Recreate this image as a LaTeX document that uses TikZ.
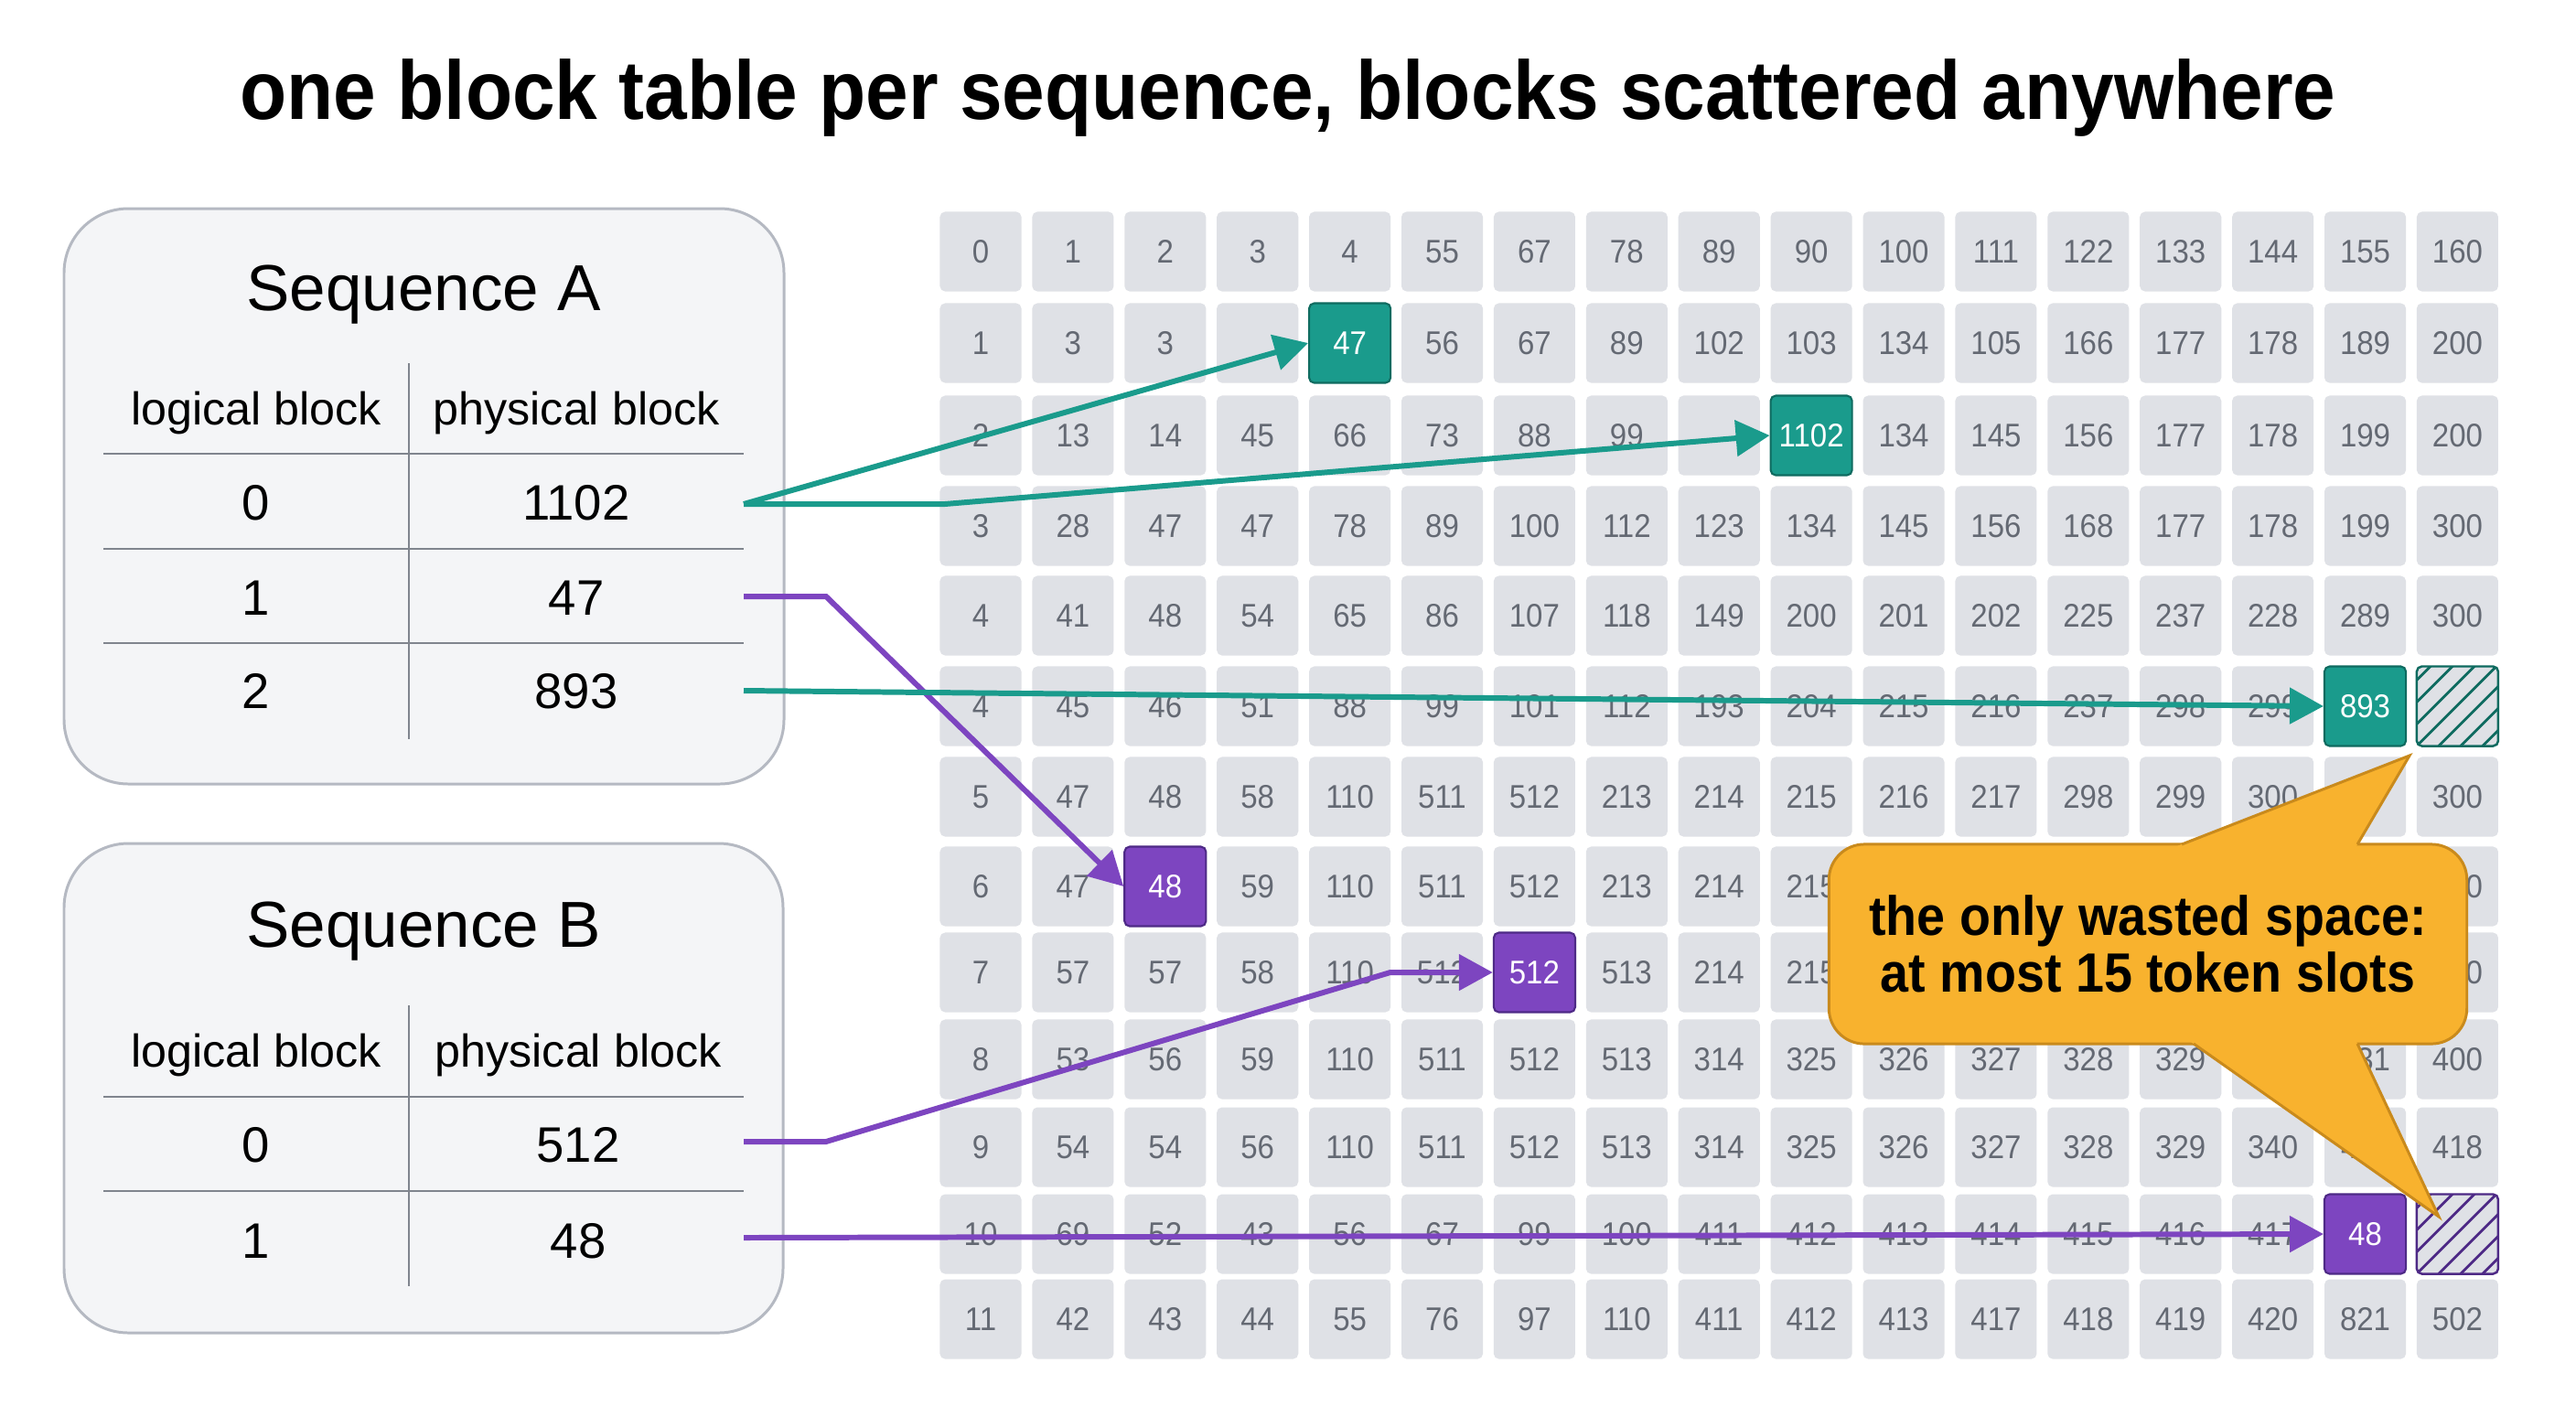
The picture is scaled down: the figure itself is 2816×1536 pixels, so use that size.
\documentclass[tikz,border=0pt]{standalone}
\usepackage{fontspec}
\setmainfont{Liberation Sans}
\newfontfamily\gridfont{Liberation Sans}[FakeStretch=0.92]
\usetikzlibrary{arrows.meta,calc}
\definecolor{cellgray}{HTML}{DFE1E6}
\definecolor{numgray}{HTML}{646973}
\definecolor{tealc}{HTML}{1A9B8C}
\definecolor{tealdark}{HTML}{0F6B60}
\definecolor{purpc}{HTML}{7D45C0}
\definecolor{purpdark}{HTML}{4E2A86}
\definecolor{panelfill}{HTML}{F4F5F7}
\definecolor{panelline}{HTML}{B5B9C2}
\definecolor{ruleline}{HTML}{80858E}
\definecolor{notefill}{HTML}{F8B22E}
\definecolor{noteline}{HTML}{C98A1C}

\begin{document}
\begin{tikzpicture}[x=0.01cm,y=-0.01cm,
  cell/.style={fill=cellgray, rounded corners=1.6pt, minimum width=0.89cm, minimum height=0.87cm,
    inner sep=0pt, text=numgray, font=\gridfont\fontsize{10.2}{12}\selectfont},
  tealblk/.style={cell, fill=tealc, draw=tealdark, line width=0.6pt, text=white},
  purpblk/.style={cell, fill=purpc, draw=purpdark, line width=0.6pt, text=white},
  slack/.style={cell, draw=#1, line width=0.7pt, path picture={
    \foreach \k in {0,...,8} \draw[#1, line width=0.8pt, sharp corners]
      ($(path picture bounding box.south west)+(\k*24-96,0)$) -- ++(140,-140);}},
  link/.style={line width=1.7pt, -{Triangle[length=10.5pt,width=11pt]}},
  panel/.style={fill=panelfill, draw=panelline, line width=0.85pt, rounded corners=20pt},
  rule/.style={draw=ruleline, line width=0.7pt},
  seqtitle/.style={anchor=base, font=\fontsize{20.2}{24}\selectfont},
  hdr/.style={anchor=base, font=\fontsize{14.3}{17}\selectfont},
  val/.style={anchor=base, font=\fontsize{15.5}{18}\selectfont},
  note/.style={fill=notefill, draw=noteline, line width=0.85pt, rounded corners=11pt,
    minimum width=6.97cm, minimum height=2.18cm, inner sep=0pt, align=center,
    font=\gridfont\bfseries\fontsize{17.2}{17.6}\selectfont}]
\useasboundingbox (0,0) rectangle (2816,1536);
\fill[white] (0,0) rectangle (2816,1536);
\node[anchor=base, font=\gridfont\bfseries\fontsize{25.9}{30}\selectfont] (title) at (1408,130)
  {one block table per sequence, blocks scattered anywhere};

\draw[panel] (70,228) rectangle (857,857);
\node[seqtitle] (seqA) at (463,339) {Sequence A};
\draw[rule] (447,397) -- (447,808);
\foreach \yy in {496,600,703} \draw[rule] (113,\yy) -- (813,\yy);
\node[hdr] (logA) at (280,464) {logical block};
\node[hdr] (physA) at (630,464) {physical block};
\foreach \l/\p/\yb [count=\i from 0] in {0/1102/568,1/47/672,2/893/774}{
  \node[val] (lA\i) at (280,\yb) {\l};
  \node[val] (pA\i) at (630,\yb) {\p};
}
\coordinate (sA0) at (813,551);
\coordinate (sA1) at (813,652);
\coordinate (sA2) at (813,755);

\draw[panel] (70,922) rectangle (856,1457);
\node[seqtitle] (seqB) at (463,1035) {Sequence B};
\draw[rule] (447,1099) -- (447,1406);
\foreach \yy in {1199,1302} \draw[rule] (113,\yy) -- (813,\yy);
\node[hdr] (logB) at (280,1166) {logical block};
\node[hdr] (physB) at (632,1166) {physical block};
\foreach \l/\p/\yb [count=\i from 0] in {0/512/1270,1/48/1375}{
  \node[val] (lB\i) at (280,\yb) {\l};
  \node[val] (pB\i) at (632,\yb) {\p};
}
\coordinate (sB0) at (813,1248);
\coordinate (sB1) at (813,1353);

\foreach \v [count=\c from 0] in {0,1,2,3,4,55,67,78,89,90,100,111,122,133,144,155,160} \node[cell] (g-0-\c) at (1072+100.9*\c,275) {\v};
\foreach \v [count=\c from 0] in {1,3,3,{},{},56,67,89,102,103,134,105,166,177,178,189,200} \node[cell] (g-1-\c) at (1072+100.9*\c,375) {\v};
\foreach \v [count=\c from 0] in {2,13,14,45,66,73,88,99,{},{},134,145,156,177,178,199,200} \node[cell] (g-2-\c) at (1072+100.9*\c,476) {\v};
\foreach \v [count=\c from 0] in {3,28,47,47,78,89,100,112,123,134,145,156,168,177,178,199,300} \node[cell] (g-3-\c) at (1072+100.9*\c,575) {\v};
\foreach \v [count=\c from 0] in {4,41,48,54,65,86,107,118,149,200,201,202,225,237,228,289,300} \node[cell] (g-4-\c) at (1072+100.9*\c,673) {\v};
\foreach \v [count=\c from 0] in {4,45,46,51,88,99,101,112,193,204,215,216,237,298,299,{},{}} \node[cell] (g-5-\c) at (1072+100.9*\c,772) {\v};
\foreach \v [count=\c from 0] in {5,47,48,58,110,511,512,213,214,215,216,217,298,299,300,{},300} \node[cell] (g-6-\c) at (1072+100.9*\c,871) {\v};
\foreach \v [count=\c from 0] in {6,47,{},59,110,511,512,213,214,215,{},{},{},{},{},{},300} \node[cell] (g-7-\c) at (1072+100.9*\c,969) {\v};
\foreach \v [count=\c from 0] in {7,57,57,58,110,512,{},513,214,215,{},{},{},{},{},{},400} \node[cell] (g-8-\c) at (1072+100.9*\c,1063) {\v};
\foreach \v [count=\c from 0] in {8,53,56,59,110,511,512,513,314,325,326,327,328,329,{},331,400} \node[cell] (g-9-\c) at (1072+100.9*\c,1158) {\v};
\foreach \v [count=\c from 0] in {9,54,54,56,110,511,512,513,314,325,326,327,328,329,340,411,418} \node[cell] (g-10-\c) at (1072+100.9*\c,1254) {\v};
\foreach \v [count=\c from 0] in {10,69,52,43,56,67,99,100,411,412,413,414,415,416,417,{},{}} \node[cell] (g-11-\c) at (1072+100.9*\c,1349) {\v};
\foreach \v [count=\c from 0] in {11,42,43,44,55,76,97,110,411,412,413,417,418,419,420,821,502} \node[cell] (g-12-\c) at (1072+100.9*\c,1442) {\v};

\node[tealblk] (blkA0) at (g-2-9) {1102};
\node[tealblk] (blkA1) at (g-1-4) {47};
\node[tealblk] (blkA2) at (g-5-15) {893};
\node[slack=tealdark] (slackA) at (g-5-16) {};
\node[purpblk] (blkB0) at (g-8-6) {512};
\node[purpblk] (blkB1) at (g-11-15) {48};
\node[slack=purpdark] (slackB) at (g-11-16) {};
\node[purpblk] (blkA1x) at (g-7-2) {48};

\draw[link, tealc] (sA0) -- (blkA1.west);
\draw[link, tealc] (sA0) -- ++(220,0) -- (blkA0.west);
\draw[link, purpc] (sA1) -- ++(90,0) -- (blkA1x.west);
\draw[link, tealc] (sA2) -- (blkA2.west);
\draw[link, purpc] (sB0) -- ++(90,0) -- ($(blkB0.west)+(-112,0)$) -- (blkB0.west);
\draw[link, purpc] (sB1) -- (blkB1.west);

\node[note] (note) at (2348,1032) {the only wasted space:\\at most 15 token slots};
\coordinate (tipU) at (2634,826);
\coordinate (tipL) at (2666,1330);
\fill[notefill] ($(tipU)!1.15!(2385,923)$) -- (tipU) -- ($(tipU)!1.15!(2577,923)$) -- cycle;
\draw[noteline, line width=0.85pt] (2385,923) -- (tipU) -- (2577,923);
\fill[notefill] ($(tipL)!1.1!(2398,1141)$) -- (tipL) -- ($(tipL)!1.1!(2577,1141)$) -- cycle;
\draw[noteline, line width=0.85pt] (2398,1141) -- (tipL) -- (2577,1141);
\end{tikzpicture}
\end{document}
